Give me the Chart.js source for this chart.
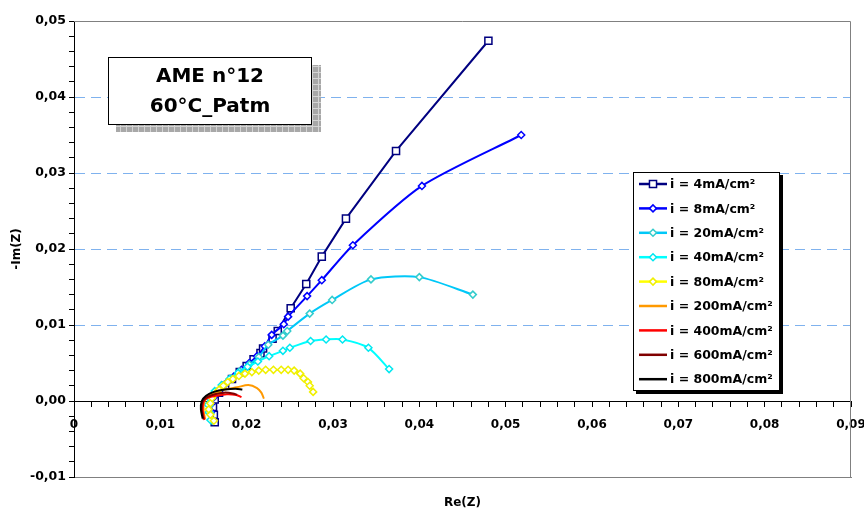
<!DOCTYPE html>
<html>
<head>
<meta charset="utf-8">
<script src="https://cdn.jsdelivr.net/npm/chart.js@4"></script>
<style>
  html, body { margin: 0; padding: 0; background: #fff; }
  #wrap { width: 864px; height: 513px; }
</style>
</head>
<body>
<div id="wrap"><canvas id="nyquist" width="864" height="513"></canvas></div>
<script>
// ---- data (Re(Z), -Im(Z)) ----
const seriesLabels = ["i = 4mA/cm²", "i = 8mA/cm²", "i = 20mA/cm²", "i = 40mA/cm²", "i = 80mA/cm²",
                      "i = 200mA/cm²", "i = 400mA/cm²", "i = 600mA/cm²", "i = 800mA/cm²"];

const re4  = [0.0163, 0.0162, 0.0161, 0.0163, 0.0168, 0.0175, 0.0183, 0.0192, 0.0200, 0.0208, 0.0216, 0.0219, 0.0230, 0.0236, 0.0251, 0.0269, 0.0287, 0.0315, 0.0373, 0.0480];
const im4  = [-0.0028, -0.0018, -0.0008, 0.0002, 0.0011, 0.0020, 0.0029, 0.0038, 0.0046, 0.0055, 0.0063, 0.0069, 0.0082, 0.0092, 0.0122, 0.0154, 0.0190, 0.0240, 0.0329, 0.0474];

const re8  = [0.0160, 0.0159, 0.0159, 0.0162, 0.0168, 0.0176, 0.0185, 0.0194, 0.0203, 0.0212, 0.0221, 0.0229, 0.0243, 0.0248, 0.0270, 0.0287, 0.0323, 0.0403, 0.0518];
const im8  = [-0.0024, -0.0014, -0.0004, 0.0005, 0.0014, 0.0023, 0.0032, 0.0041, 0.0050, 0.0059, 0.0072, 0.0087, 0.0101, 0.0111, 0.0138, 0.0159, 0.0205, 0.0283, 0.0350];

const re20 = [0.0160, 0.0158, 0.0157, 0.0159, 0.0165, 0.0173, 0.0182, 0.0192, 0.0203, 0.0214, 0.0225, 0.0242, 0.0247, 0.0273, 0.0299, 0.0344, 0.0400, 0.0462];
const im20 = [-0.0026, -0.0016, -0.0006, 0.0003, 0.0012, 0.0021, 0.0030, 0.0039, 0.0048, 0.0058, 0.0074, 0.0086, 0.0092, 0.0115, 0.0133, 0.0160, 0.0163, 0.0140];

const re40 = [0.0158, 0.0156, 0.0155, 0.0157, 0.0163, 0.0171, 0.0180, 0.0190, 0.0201, 0.0213, 0.0226, 0.0242, 0.0250, 0.0274, 0.0292, 0.0311, 0.0341, 0.0365];
const im40 = [-0.0025, -0.0015, -0.0005, 0.0004, 0.0013, 0.0021, 0.0029, 0.0037, 0.0045, 0.0052, 0.0059, 0.0066, 0.0070, 0.0079, 0.0081, 0.0081, 0.0070, 0.0042];

const re80 = [0.0162, 0.0158, 0.0156, 0.0158, 0.0160, 0.0163, 0.0168, 0.0173, 0.0178, 0.0184, 0.0191, 0.0198, 0.0206, 0.0214, 0.0222, 0.0231, 0.0240, 0.0248, 0.0255, 0.0262, 0.0266, 0.0271, 0.0273, 0.0277];
const im80 = [-0.0026, -0.0018, -0.0011, -0.0003, 0.0004, 0.0009, 0.0015, 0.0020, 0.0025, 0.0029, 0.0033, 0.0036, 0.0038, 0.0040, 0.0041, 0.0041, 0.0041, 0.0041, 0.0040, 0.0036, 0.0030, 0.0025, 0.0020, 0.0012];

const re200 = [0.0152, 0.0150, 0.0151, 0.0155, 0.0163, 0.0174, 0.0189, 0.0202, 0.0212, 0.0217, 0.0220];
const im200 = [-0.0024, -0.0012, -0.0001, 0.0006, 0.0011, 0.0015, 0.0018, 0.0021, 0.0017, 0.0011, 0.0003];

const re400 = [0.0151, 0.0149, 0.0150, 0.0155, 0.0165, 0.0177, 0.0188, 0.0194];
const im400 = [-0.0025, -0.0012, -0.0001, 0.0004, 0.0007, 0.0009, 0.0008, 0.0005];

const re600 = [0.0150, 0.0148, 0.0149, 0.0154, 0.0163, 0.0174, 0.0184, 0.0189];
const im600 = [-0.0024, -0.0011, -0.0001, 0.0005, 0.0009, 0.0011, 0.0010, 0.0008];

const re800 = [0.0149, 0.0147, 0.0148, 0.0153, 0.0162, 0.0175, 0.0187, 0.0195];
const im800 = [-0.0023, -0.0011, 0.0000, 0.0007, 0.0012, 0.0015, 0.0016, 0.0015];

const seriesRe = [re4, re8, re20, re40, re80, re200, re400, re600, re800];
const seriesIm = [im4, im8, im20, im40, im80, im200, im400, im600, im800];

const noteLines = ["AME n°12", "60°C_Patm"];

// ---- look of each series ----
const looks = [
  { line: "#000080", mark: "#000080", style: "rect",    r: 5,   tension: 0 },
  { line: "#0000FF", mark: "#0000FF", style: "rectRot", r: 3.5, tension: 0.25 },
  { line: "#00C8F8", mark: "#33CCCC", style: "rectRot", r: 3.5, tension: 0.25 },
  { line: "#00FFFF", mark: "#00E8F0", style: "rectRot", r: 3.5, tension: 0.25 },
  { line: "#FFFF00", mark: "#F0F000", style: "rectRot", r: 3.5, tension: 0.25 },
  { line: "#FF9900", mark: null, style: false, r: 0, tension: 0.3 },
  { line: "#FF0000", mark: null, style: false, r: 0, tension: 0.3 },
  { line: "#800000", mark: null, style: false, r: 0, tension: 0.3 },
  { line: "#000000", mark: null, style: false, r: 0, tension: 0.3 },
];

const FONT = "'DejaVu Sans', sans-serif";
Chart.defaults.font.family = FONT;
Chart.defaults.font.size = 12;
Chart.defaults.font.weight = "bold";
Chart.defaults.color = "#000";

function isMajor(v) {
  return Math.abs(v * 100 - Math.round(v * 100)) < 1e-6;
}

// gray top/right edge of the plot area
const frame = {
  id: "frame",
  beforeDatasetsDraw(chart) {
    const { ctx, chartArea: a } = chart;
    ctx.save();
    ctx.strokeStyle = "#808080";
    ctx.lineWidth = 1;
    ctx.beginPath();
    ctx.moveTo(a.left, a.top + 0.5);
    ctx.lineTo(a.right - 0.5, a.top + 0.5);
    ctx.lineTo(a.right - 0.5, a.bottom);
    ctx.stroke();
    ctx.restore();
  },
};

// the "AME" note box and the framed legend
const overlays = {
  id: "overlays",
  afterDraw(chart) {
    const ctx = chart.ctx;
    ctx.save();

    // note box with hatched shadow
    const pat = document.createElement("canvas");
    pat.width = 6; pat.height = 6;
    const p = pat.getContext("2d");
    p.fillStyle = "#a8a8a8"; p.fillRect(0, 0, 6, 6);
    p.fillStyle = "#d4d4d4"; p.fillRect(0, 0, 6, 1); p.fillRect(0, 0, 1, 6);
    ctx.fillStyle = ctx.createPattern(pat, "repeat");
    ctx.fillRect(116, 65, 205, 67);
    ctx.fillStyle = "#fff";
    ctx.fillRect(108, 57, 204, 68);
    ctx.strokeStyle = "#000";
    ctx.lineWidth = 1;
    ctx.strokeRect(108.5, 57.5, 203, 67);
    ctx.fillStyle = "#000";
    ctx.font = "bold 20px " + FONT;
    ctx.textAlign = "center";
    ctx.textBaseline = "middle";
    ctx.fillText(noteLines[0], 210, 77);
    ctx.fillText(noteLines[1], 210, 107);

    // legend
    const lx = 633, ly = 172, lw = 147, lh = 219;
    ctx.fillStyle = "#000";
    ctx.fillRect(lx + 3, ly + 3, lw, lh);
    ctx.fillStyle = "#fff";
    ctx.fillRect(lx, ly, lw, lh);
    ctx.strokeStyle = "#000";
    ctx.strokeRect(lx + 0.5, ly + 0.5, lw - 1, lh - 1);
    ctx.font = "bold 12.5px " + FONT;
    ctx.textAlign = "left";
    chart.data.datasets.forEach((ds, i) => {
      const y = 184 + i * 24.4;
      ctx.strokeStyle = looks[i].line;
      ctx.lineWidth = 2.5;
      ctx.beginPath();
      ctx.moveTo(639, y);
      ctx.lineTo(667, y);
      ctx.stroke();
      if (looks[i].style) {
        ctx.fillStyle = "#fff";
        ctx.strokeStyle = looks[i].mark;
        ctx.lineWidth = 1.5;
        Chart.helpers.drawPoint(ctx, { pointStyle: looks[i].style, radius: looks[i].r, borderWidth: 1.5, rotation: 0 }, 653, y);
      }
      ctx.fillStyle = "#000";
      ctx.fillText(ds.label, 670, y + 1);
    });
    ctx.restore();
  },
};

const datasets = seriesLabels.map((label, i) => ({
  label,
  data: seriesRe[i].map((x, j) => ({ x, y: seriesIm[i][j] })),
  showLine: true,
  borderColor: looks[i].line,
  borderWidth: 2,
  tension: looks[i].tension,
  pointStyle: looks[i].style,
  pointRadius: looks[i].r,
  pointBorderColor: looks[i].mark || looks[i].line,
  pointBackgroundColor: "#fff",
  pointBorderWidth: 1.5,
  order: seriesLabels.length - i,
}));

new Chart(document.getElementById("nyquist"), {
  type: "scatter",
  data: { datasets },
  plugins: [frame, overlays],
  options: {
    responsive: false,
    animation: false,
    layout: { padding: { top: 21, right: 13, bottom: 0, left: 0 } },
    plugins: { legend: { display: false }, tooltip: { enabled: false } },
    scales: {
      x: {
        type: "linear",
        position: { y: 0 },
        min: 0, max: 0.09,
        afterFit: s => { s.paddingLeft = 0; s.paddingRight = 0; },
        ticks: {
          stepSize: 0.002, maxTicksLimit: 100, autoSkip: false,
          maxRotation: 0, minRotation: 0, padding: 12,
          callback: v => (isMajor(v) ? (v === 0 ? "0" : v.toFixed(2).replace(".", ",")) : ""),
        },
        grid: { drawOnChartArea: false, tickLength: 5, tickColor: "#000" },
        border: { color: "#000", width: 1 },
      },
      x2: {
        type: "linear",
        axis: "x",
        position: "bottom",
        min: 0, max: 0.09,
        afterFit: s => { s.height = 36; s.paddingLeft = 0; s.paddingRight = 0; },
        ticks: { display: false },
        grid: { display: false, drawTicks: false },
        border: { color: "#808080", width: 1 },
        title: { display: true, text: "Re(Z)", padding: { top: 0, bottom: 3 }, font: { size: 12, weight: "bold" } },
      },
      y: {
        type: "linear",
        position: "left",
        min: -0.01, max: 0.05,
        afterFit: s => { s.width = 74; },
        ticks: {
          stepSize: 0.002, maxTicksLimit: 100, autoSkip: false, padding: 3,
          font: { size: 12.5, weight: "bold" },
          callback: v => (isMajor(v) ? (Math.round(v * 100) / 100).toFixed(2).replace(".", ",") : ""),
        },
        grid: {
          color: c => (c.tick && isMajor(c.tick.value) && c.tick.value > 0.001 && c.tick.value < 0.049 ? "#7FB2EE" : "rgba(0,0,0,0)"),
          lineWidth: 1,
          tickLength: 5,
          tickColor: "#000",
        },
        border: { color: "#000", width: 1, dash: [10, 6] },
        title: { display: true, text: "-Im(Z)", padding: { top: 10, bottom: 0 }, font: { size: 12, weight: "bold" } },
      },
    },
  },
});
</script>
</body>
</html>
